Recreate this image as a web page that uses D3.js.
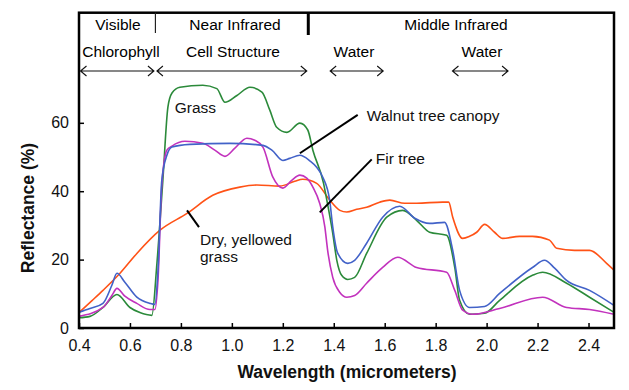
<!DOCTYPE html>
<html>
<head>
<meta charset="utf-8">
<script src="https://cdn.jsdelivr.net/npm/d3@7"></script>
<style>
  html, body { margin: 0; padding: 0; background: #fff; }
  svg { display: block; font-family: "Liberation Sans", Arial, sans-serif; }
</style>
</head>
<body>
<div id="chart"></div>
<script>
// wavelength (micrometers) / reflectance (%)
const grassWl = [0.40, 0.443, 0.494, 0.549, 0.60, 0.639, 0.686, 0.706, 0.729, 0.749, 0.765, 0.796, 0.886, 0.941, 0.973, 1.02, 1.071, 1.118, 1.149, 1.176, 1.216, 1.267, 1.298, 1.318, 1.36, 1.373, 1.396, 1.412, 1.431, 1.455, 1.482, 1.529, 1.608, 1.671, 1.725, 1.776, 1.843, 1.875, 1.894, 1.933, 1.992, 2.051, 2.18, 2.22, 2.314, 2.404, 2.5];
const grassR  = [3, 3.4, 6, 9.8, 6, 4.5, 3.7, 19, 43, 64.6, 68.7, 70.4, 71, 70, 66, 68, 70.4, 69, 63.7, 58.7, 57.2, 59.9, 57.9, 52, 42.3, 37.3, 27.7, 19.8, 15.4, 14.2, 14.8, 21.8, 32.4, 34.4, 31.5, 28, 27.1, 17.7, 8.1, 4, 4.3, 8.1, 15.4, 16.3, 13.1, 9, 4.6];

const walnutWl = [0.40, 0.443, 0.494, 0.529, 0.549, 0.58, 0.627, 0.678, 0.698, 0.71, 0.725, 0.745, 0.765, 0.835, 0.992, 1.122, 1.157, 1.20, 1.227, 1.267, 1.306, 1.333, 1.357, 1.384, 1.396, 1.416, 1.455, 1.482, 1.529, 1.592, 1.659, 1.718, 1.776, 1.835, 1.867, 1.894, 1.933, 1.992, 2.051, 2.18, 2.227, 2.267, 2.314, 2.404, 2.5];
const walnutR  = [4.6, 5.7, 7.2, 12.5, 16, 13.4, 9, 7.2, 6.9, 16.8, 43.2, 50.5, 52.9, 53.7, 54, 53.4, 52, 49, 49.6, 50.5, 48.9, 47, 44.1, 37.3, 29.6, 21.8, 18.9, 19.8, 24.8, 32.4, 35.6, 32.1, 30.6, 30.9, 22.7, 11, 6, 6.3, 10.1, 17.7, 19.8, 17.5, 13.9, 11, 6.6];

const firWl = [0.40, 0.494, 0.529, 0.549, 0.58, 0.627, 0.678, 0.698, 0.71, 0.725, 0.745, 0.765, 0.816, 0.886, 0.933, 0.973, 1.012, 1.059, 1.09, 1.122, 1.161, 1.20, 1.235, 1.267, 1.294, 1.318, 1.345, 1.365, 1.376, 1.396, 1.424, 1.451, 1.482, 1.529, 1.592, 1.651, 1.725, 1.843, 1.875, 1.906, 1.945, 2.051, 2.22, 2.314, 2.404, 2.5];
const firR  = [3.4, 6, 9.5, 11.6, 9.3, 7.2, 5.4, 5.4, 13.9, 41.8, 52, 53.2, 54.6, 54, 52, 50.2, 52.6, 55.5, 54.9, 52.9, 44.1, 40.9, 43.2, 44.7, 43.8, 41.2, 36.4, 29.6, 22.7, 14.8, 10.4, 9, 9.5, 13.1, 17.7, 20.7, 17.7, 16.3, 11, 5.2, 4, 5.7, 9, 6, 5.4, 4];

const dryWl = [0.40, 0.451, 0.494, 0.561, 0.627, 0.718, 0.824, 0.925, 1.031, 1.098, 1.188, 1.247, 1.278, 1.333, 1.384, 1.424, 1.451, 1.49, 1.529, 1.58, 1.62, 1.678, 1.725, 1.827, 1.851, 1.867, 1.906, 1.933, 1.961, 1.992, 2.031, 2.063, 2.129, 2.18, 2.247, 2.275, 2.345, 2.404, 2.471, 2.5];
const dryR  = [4.5, 8, 11, 16, 21.8, 28.6, 33.5, 38.8, 41.2, 41.8, 41.5, 42.9, 43.5, 42.3, 37.4, 34.4, 33.9, 34.7, 35.3, 36.8, 37.4, 36.5, 36.5, 36.8, 36.8, 32.4, 26.2, 26.8, 28, 30.3, 28, 26.2, 26.8, 26.8, 25.7, 23.3, 22.7, 22.7, 18.9, 16.9];

const xTicks = [0.4, 0.6, 0.8, 1.0, 1.2, 1.4, 1.6, 1.8, 2.0, 2.2, 2.4];
const yTicks = [0, 20, 40, 60];

// spectral regions and absorption features (micrometers)
const regionNames = ["Visible", "Near Infrared", "Middle Infrared"];
const regionBounds = [[0.4, 0.7], [0.7, 1.3], [1.3, 2.5]];
const featureNames = ["Chlorophyll", "Cell Structure", "Water", "Water"];
const featureBounds = [[0.4, 0.7], [0.7, 1.3], [1.38, 1.6], [1.86, 2.09]];

const WIDTH = 629;
const HEIGHT = 390;
const LEFT = 79, RIGHT = 614, TOP = 12.7, BOTTOM = 328;

const x = d3.scaleLinear().domain([0.4, 2.5]).range([LEFT, RIGHT]);
const y = d3.scaleLinear().domain([0, 92.2]).range([BOTTOM, TOP]);

const svg = d3.select("#chart").append("svg")
  .attr("width", WIDTH)
  .attr("height", HEIGHT);

const series = [
  { wl: dryWl, r: dryR, color: "#ff5216" },
  { wl: grassWl, r: grassR, color: "#2b8a3a" },
  { wl: firWl, r: firR, color: "#c232bd" },
  { wl: walnutWl, r: walnutR, color: "#4262c8" }
];

const line = d3.line()
  .x(d => x(d[0]))
  .y(d => y(d[1]))
  .curve(d3.curveMonotoneX);

svg.append("g")
  .selectAll("path")
  .data(series)
  .join("path")
  .attr("fill", "none")
  .attr("stroke", d => d.color)
  .attr("stroke-width", 1.6)
  .attr("stroke-linejoin", "round")
  .attr("d", d => line(d.wl.map((w, i) => [w, d.r[i]])));

// axes, ticks pointing into the plot
const xAxis = svg.append("g")
  .attr("transform", `translate(0,${BOTTOM})`)
  .call(d3.axisBottom(x).tickValues(xTicks).tickFormat(d3.format(".1f")).tickSize(-5).tickPadding(12));
const yAxis = svg.append("g")
  .attr("transform", `translate(${LEFT},0)`)
  .call(d3.axisLeft(y).tickValues(yTicks).tickSize(-5).tickPadding(10));
[xAxis, yAxis].forEach(a => {
  a.select(".domain").remove();
  a.selectAll(".tick line").attr("stroke", "#000").attr("stroke-width", 1.5);
  a.selectAll(".tick text").attr("font-size", 16).attr("font-family", "Liberation Sans, Arial, sans-serif").attr("fill", "#111");
});

// frame
svg.append("rect")
  .attr("x", LEFT).attr("y", TOP)
  .attr("width", RIGHT - LEFT).attr("height", BOTTOM - TOP)
  .attr("fill", "none").attr("stroke", "#000").attr("stroke-width", 2.5);

// region header
svg.append("line")
  .attr("x1", x(0.7)).attr("x2", x(0.7)).attr("y1", TOP).attr("y2", 33)
  .attr("stroke", "#222").attr("stroke-width", 1.2);
svg.append("line")
  .attr("x1", x(1.3)).attr("x2", x(1.3)).attr("y1", TOP).attr("y2", 35)
  .attr("stroke", "#000").attr("stroke-width", 3);

const regionCenters = [118, 235, 456];
svg.append("g").selectAll("text")
  .data(regionNames)
  .join("text")
  .attr("x", (d, i) => regionCenters[i])
  .attr("y", 30)
  .attr("text-anchor", "middle")
  .attr("font-size", 15.5)
  .text(d => d);

const featureCenters = [121, 233, 354, 482];
svg.append("g").selectAll("text")
  .data(featureNames)
  .join("text")
  .attr("x", (d, i) => featureCenters[i])
  .attr("y", 57)
  .attr("text-anchor", "middle")
  .attr("font-size", 15.5)
  .text(d => d);

// double-headed arrows
const AY = 71, HEAD = 5;
const arrows = svg.append("g")
  .attr("fill", "none").attr("stroke", "#111").attr("stroke-width", 1.1);
featureBounds.forEach(([a, b]) => {
  const x0 = x(a) + 1.5, x1 = x(b) - 1.5;
  arrows.append("path").attr("d",
    `M${x0},${AY}H${x1}` +
    `M${x0 + HEAD + 1},${AY - HEAD}L${x0},${AY}L${x0 + HEAD + 1},${AY + HEAD}` +
    `M${x1 - HEAD - 1},${AY - HEAD}L${x1},${AY}L${x1 - HEAD - 1},${AY + HEAD}`);
});

// curve labels and leader lines (data coordinates)
const labels = [
  { text: ["Grass"], wl: 0.776, r: 63 },
  { text: ["Walnut tree canopy"], wl: 1.529, r: 60.5 },
  { text: ["Fir tree"], wl: 1.565, r: 47.9 },
  { text: ["Dry, yellowed", "grass"], wl: 0.875, r: 24.2 }
];
const leaders = [
  [[1.494, 62.3], [1.267, 51.1]],
  [[1.549, 49.3], [1.345, 33.8]],
  [[0.824, 34.4], [0.871, 29.5]]
];
svg.append("g").selectAll("line")
  .data(leaders)
  .join("line")
  .attr("x1", d => x(d[0][0])).attr("y1", d => y(d[0][1]))
  .attr("x2", d => x(d[1][0])).attr("y2", d => y(d[1][1]))
  .attr("stroke", "#000").attr("stroke-width", 2);

const lab = svg.append("g").selectAll("text")
  .data(labels)
  .join("text")
  .attr("font-size", 15.5)
  .attr("fill", "#111");
lab.selectAll("tspan")
  .data(d => d.text.map((t, i) => ({ t, i, d })))
  .join("tspan")
  .attr("x", o => x(o.d.wl))
  .attr("y", o => y(o.d.r) + o.i * 17)
  .text(o => o.t);

// axis titles
svg.append("text")
  .attr("x", 347).attr("y", 378)
  .attr("text-anchor", "middle")
  .attr("font-size", 17.5).attr("font-weight", "bold")
  .attr("fill", "#111")
  .text("Wavelength (micrometers)");
svg.append("text")
  .attr("transform", "translate(34,208) rotate(-90)")
  .attr("text-anchor", "middle")
  .attr("font-size", 17.5).attr("font-weight", "bold")
  .attr("fill", "#111")
  .text("Reflectance (%)");
</script>
</body>
</html>
